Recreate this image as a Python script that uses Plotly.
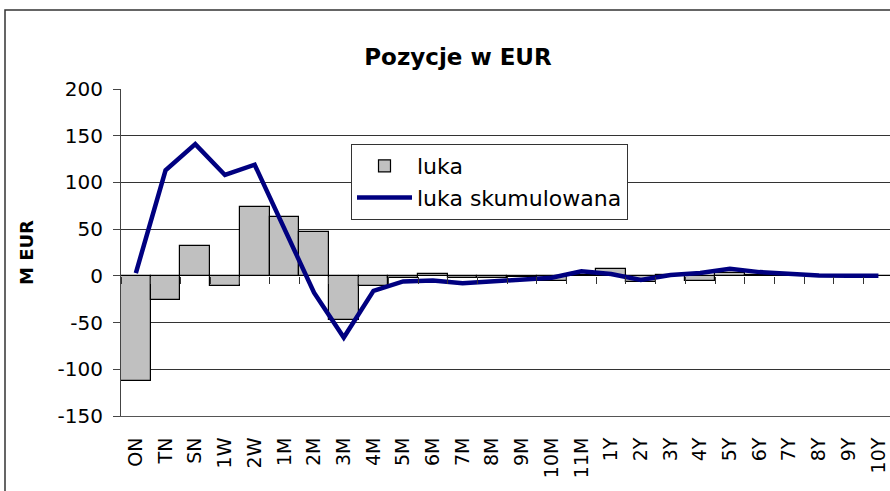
import plotly.graph_objects as go

categories = ["ON", "TN", "SN", "1W", "2W", "1M", "2M", "3M", "4M", "5M", "6M", "7M", "8M",
              "9M", "10M", "11M", "1Y", "2Y", "3Y", "4Y", "5Y", "6Y", "7Y", "8Y", "9Y", "10Y"]
luka = [-112, -26, 32, -11, 74, 63, 47, -47, -11, -2, 2, -2, -2, -1, -6, 0.5,
        7, -7, 0.5, -6, 3, 1, 0.5, 0.3, 0.2, 0.2]
luka_skum = [3, 113, 141, 108, 119, 50, -18, -66, -16, -6, -5, -8, -6, -4, -2, 5,
             2, -4.5, 1, 3, 7.5, 4, 2, 0.5, 0, 0]
y_ticks = [200, 150, 100, 50, 0, -50, -100, -150]
y_tick_labels = ["200", "150", "100", "50", "0", "-50", "-100", "-150"]

FONT = "DejaVu Sans"

fig = go.Figure()
fig.add_trace(go.Bar(x=categories, y=luka, name="luka", legendgroup="a",
                     marker=dict(color="#c0c0c0", line=dict(color="black", width=1.2))))
fig.add_trace(go.Scatter(x=categories, y=luka_skum, name="luka skumulowana", legendgroup="b",
                         mode="lines", line=dict(color="#000080", width=4.5)))
# invisible helper trace for the tick axis crossing at zero
fig.add_trace(go.Scatter(x=categories, y=luka, xaxis="x2", mode="markers",
                         marker=dict(opacity=0), showlegend=False, hoverinfo="skip"))

ymin, ymax = -150, 200
fig.update_layout(
    width=890, height=491,
    margin=dict(l=121, r=0, t=89, b=75),
    paper_bgcolor="white", plot_bgcolor="white",
    font=dict(family=FONT, color="black"),
    bargap=0,
    title=dict(text="<b>Pozycje w EUR</b>", x=458 / 890, xanchor="center",
               y=1 - 57 / 491, yanchor="middle", font=dict(size=23, family=FONT)),
    xaxis=dict(type="category", range=[-0.5, 25.39], showgrid=False, ticks="",
               tickangle=-90, tickfont=dict(size=19), showline=True, linecolor="#555",
               linewidth=1, ticklabelstandoff=13, zeroline=False),
    xaxis2=dict(type="category", matches="x", overlaying="x", anchor="free",
                position=(0 - ymin) / (ymax - ymin), showticklabels=False,
                ticks="outside", tickson="boundaries", ticklen=7, tickcolor="#333",
                showgrid=False, showline=False, zeroline=False),
    yaxis=dict(range=[ymin, ymax], tickvals=y_ticks, ticktext=y_tick_labels,
               showgrid=True, gridcolor="#333",
               gridwidth=1, zeroline=True, zerolinecolor="black", zerolinewidth=1,
               showline=True, linecolor="#444", linewidth=1, ticks="outside",
               ticklen=7, tickcolor="#444", tickfont=dict(size=20), ticklabelstandoff=6,
               title=dict(text="<b>M EUR</b>", font=dict(size=18), standoff=19)),
    legend=dict(x=(351 - 121) / 769, y=(416 - 144) / 327, xanchor="left", yanchor="top",
                bgcolor="white", bordercolor="#333", borderwidth=1, itemwidth=55,
                font=dict(size=22, family=FONT), tracegroupgap=7, traceorder="normal"),
    showlegend=True,
)
# outer chart border
fig.add_shape(type="rect", xref="paper", yref="paper",
              x0=(5 - 121) / 769, x1=1.05, y0=-0.4, y1=(416 - 10) / 327,
              line=dict(color="#333", width=1.5), fillcolor="rgba(0,0,0,0)", layer="below")

fig.write_html("out.html", config={"displayModeBar": False},
               post_script="document.body.style.margin='0px';")
